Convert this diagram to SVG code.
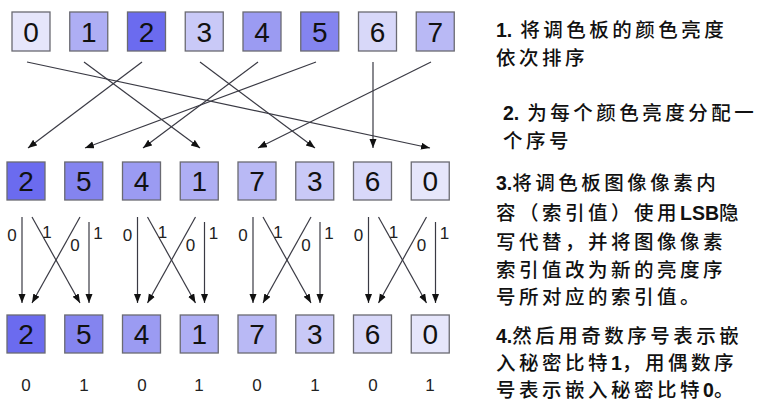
<svg xmlns="http://www.w3.org/2000/svg" width="767" height="403" viewBox="0 0 767 403">
<style>
.box{stroke:#6a6a72;stroke-width:1.3}
.num{font-family:"Liberation Sans",Arial,sans-serif;font-size:28px;fill:#111;text-anchor:middle}
.lbl{font-family:"Liberation Sans",Arial,sans-serif;font-size:17px;fill:#222;text-anchor:middle}
.ln{stroke:#3a3a44;stroke-width:1.2;fill:none;marker-end:url(#ah)}
.txt{font-family:"Noto Sans CJK SC",sans-serif;font-size:19.5px;letter-spacing:3.5px;fill:#111;font-weight:500}
.b{font-family:"Liberation Sans",Arial,sans-serif;font-weight:900;letter-spacing:0}
</style>
<defs>
<marker id="ah" markerUnits="userSpaceOnUse" markerWidth="10" markerHeight="8" refX="9" refY="3.5" orient="auto">
<path d="M0,0 L9,3.5 L0,7 z" fill="#111"/>
</marker>
</defs>
<rect width="767" height="403" fill="#fff"/>
<g id="row1">
<g id="r1n0"><rect class="box" x="12" y="12" width="38" height="39" fill="#e6e6fb"/><text class="num" x="31" y="41.5">0</text></g>
<g id="r1n1"><rect class="box" x="69.75" y="12" width="38" height="39" fill="#aeaef4"/><text class="num" x="88.75" y="41.5">1</text></g>
<g id="r1n2"><rect class="box" x="127.5" y="12" width="38" height="39" fill="#6b6bef"/><text class="num" x="146.5" y="41.5">2</text></g>
<g id="r1n3"><rect class="box" x="185.25" y="12" width="38" height="39" fill="#c9c9f7"/><text class="num" x="204.25" y="41.5">3</text></g>
<g id="r1n4"><rect class="box" x="243" y="12" width="38" height="39" fill="#9b9bf2"/><text class="num" x="262" y="41.5">4</text></g>
<g id="r1n5"><rect class="box" x="300.75" y="12" width="38" height="39" fill="#8484ef"/><text class="num" x="319.75" y="41.5">5</text></g>
<g id="r1n6"><rect class="box" x="358.5" y="12" width="38" height="39" fill="#d8d8f9"/><text class="num" x="377.5" y="41.5">6</text></g>
<g id="r1n7"><rect class="box" x="416.25" y="12" width="38" height="39" fill="#b9b9f5"/><text class="num" x="435.25" y="41.5">7</text></g>
</g>
<g id="row2">
<g id="r2n0"><rect class="box" x="7" y="162" width="38" height="38" fill="#6b6bef"/><text class="num" x="26" y="191">2</text></g>
<g id="r2n1"><rect class="box" x="64.75" y="162" width="38" height="38" fill="#8484ef"/><text class="num" x="83.75" y="191">5</text></g>
<g id="r2n2"><rect class="box" x="122.5" y="162" width="38" height="38" fill="#9b9bf2"/><text class="num" x="141.5" y="191">4</text></g>
<g id="r2n3"><rect class="box" x="180.25" y="162" width="38" height="38" fill="#aeaef4"/><text class="num" x="199.25" y="191">1</text></g>
<g id="r2n4"><rect class="box" x="238" y="162" width="38" height="38" fill="#b9b9f5"/><text class="num" x="257" y="191">7</text></g>
<g id="r2n5"><rect class="box" x="295.75" y="162" width="38" height="38" fill="#c9c9f7"/><text class="num" x="314.75" y="191">3</text></g>
<g id="r2n6"><rect class="box" x="353.5" y="162" width="38" height="38" fill="#d8d8f9"/><text class="num" x="372.5" y="191">6</text></g>
<g id="r2n7"><rect class="box" x="411.25" y="162" width="38" height="38" fill="#e6e6fb"/><text class="num" x="430.25" y="191">0</text></g>
</g>
<g id="row3">
<g id="r3n0"><rect class="box" x="7" y="315" width="38" height="38" fill="#6b6bef"/><text class="num" x="26" y="344">2</text></g>
<g id="r3n1"><rect class="box" x="64.75" y="315" width="38" height="38" fill="#8484ef"/><text class="num" x="83.75" y="344">5</text></g>
<g id="r3n2"><rect class="box" x="122.5" y="315" width="38" height="38" fill="#9b9bf2"/><text class="num" x="141.5" y="344">4</text></g>
<g id="r3n3"><rect class="box" x="180.25" y="315" width="38" height="38" fill="#aeaef4"/><text class="num" x="199.25" y="344">1</text></g>
<g id="r3n4"><rect class="box" x="238" y="315" width="38" height="38" fill="#b9b9f5"/><text class="num" x="257" y="344">7</text></g>
<g id="r3n5"><rect class="box" x="295.75" y="315" width="38" height="38" fill="#c9c9f7"/><text class="num" x="314.75" y="344">3</text></g>
<g id="r3n6"><rect class="box" x="353.5" y="315" width="38" height="38" fill="#d8d8f9"/><text class="num" x="372.5" y="344">6</text></g>
<g id="r3n7"><rect class="box" x="411.25" y="315" width="38" height="38" fill="#e6e6fb"/><text class="num" x="430.25" y="344">0</text></g>
</g>
<g id="connectors">
<line class="ln" x1="27" y1="62" x2="430" y2="148"/>
<line class="ln" x1="84" y1="62" x2="200" y2="148"/>
<line class="ln" x1="142" y1="62" x2="28" y2="148"/>
<line class="ln" x1="200" y1="62" x2="315" y2="148"/>
<line class="ln" x1="258" y1="62" x2="143" y2="148"/>
<line class="ln" x1="316" y1="62" x2="85" y2="148"/>
<line class="ln" x1="373" y1="62" x2="373" y2="148"/>
<line class="ln" x1="431" y1="62" x2="258" y2="148"/>

<line class="ln" x1="22" y1="217" x2="22" y2="303"/>
<line class="ln" x1="32" y1="217" x2="80" y2="303"/>
<line class="ln" x1="80" y1="217" x2="32" y2="303"/>
<line class="ln" x1="89" y1="222" x2="89" y2="303"/>

<line class="ln" x1="137.5" y1="217" x2="137.5" y2="303"/>
<line class="ln" x1="147.5" y1="217" x2="195.5" y2="303"/>
<line class="ln" x1="195.5" y1="217" x2="147.5" y2="303"/>
<line class="ln" x1="204.5" y1="222" x2="204.5" y2="303"/>

<line class="ln" x1="253" y1="217" x2="253" y2="303"/>
<line class="ln" x1="263" y1="217" x2="311" y2="303"/>
<line class="ln" x1="311" y1="217" x2="263" y2="303"/>
<line class="ln" x1="320" y1="222" x2="320" y2="303"/>

<line class="ln" x1="368.5" y1="217" x2="368.5" y2="303"/>
<line class="ln" x1="378.5" y1="217" x2="426.5" y2="303"/>
<line class="ln" x1="426.5" y1="217" x2="378.5" y2="303"/>
<line class="ln" x1="435.5" y1="222" x2="435.5" y2="303"/>

<text class="lbl" x="12" y="241">0</text><text class="lbl" x="47" y="238">1</text><text class="lbl" x="75" y="251">0</text><text class="lbl" x="98" y="239">1</text>
<text class="lbl" x="127.5" y="241">0</text><text class="lbl" x="162.5" y="238">1</text><text class="lbl" x="190.5" y="251">0</text><text class="lbl" x="213.5" y="239">1</text>
<text class="lbl" x="243" y="241">0</text><text class="lbl" x="278" y="238">1</text><text class="lbl" x="306" y="251">0</text><text class="lbl" x="329" y="239">1</text>
<text class="lbl" x="358.5" y="241">0</text><text class="lbl" x="393.5" y="238">1</text><text class="lbl" x="421.5" y="251">0</text><text class="lbl" x="444.5" y="239">1</text>
</g>
<g id="bits">
<text class="lbl" x="26" y="391">0</text><text class="lbl" x="84" y="391">1</text><text class="lbl" x="142" y="391">0</text><text class="lbl" x="199" y="391">1</text>
<text class="lbl" x="257" y="391">0</text><text class="lbl" x="315" y="391">1</text><text class="lbl" x="373" y="391">0</text><text class="lbl" x="430" y="391">1</text>
</g>
<g id="notes" class="txt">
<text x="496" y="37"><tspan class="b">1.</tspan> 将调色板的颜色亮度</text>
<text x="496" y="65">依次排序</text>
<text x="503" y="120"><tspan class="b">2.</tspan> 为每个颜色亮度分配一</text>
<text x="503" y="148">个序号</text>
<text x="496" y="190"><tspan class="b">3.</tspan>将调色板图像像素内</text>
<text x="496" y="220">容（索引值）使用<tspan class="b">LSB</tspan>隐</text>
<text x="496" y="249">写代替，并将图像像素</text>
<text x="496" y="277">索引值改为新的亮度序</text>
<text x="496" y="304">号所对应的索引值。</text>
<text x="496" y="343"><tspan class="b">4.</tspan>然后用奇数序号表示嵌</text>
<text x="496" y="370">入秘密比特<tspan class="b">1</tspan>，用偶数序</text>
<text x="496" y="397">号表示嵌入秘密比特<tspan class="b">0</tspan>。</text>
</g>
</svg>
